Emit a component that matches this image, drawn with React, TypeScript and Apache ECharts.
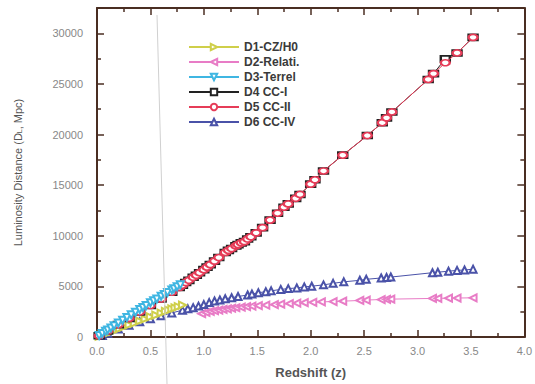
import React, { useEffect, useRef } from "react";
import * as echarts from "echarts";

// D1 - CZ/H0
const zD1 = [0.02, 0.04, 0.06, 0.08, 0.1, 0.12, 0.15, 0.18, 0.21, 0.25, 0.3, 0.35, 0.4, 0.45, 0.5, 0.55, 0.6, 0.64, 0.67, 0.7, 0.73, 0.76, 0.8];
const dD1 = [80, 160, 240, 320, 400, 470, 590, 710, 830, 990, 1190, 1380, 1580, 1780, 1980, 2170, 2370, 2530, 2650, 2770, 2880, 3000, 3160];

// D2 - Relati.
const zD2 = [0.98, 1.02, 1.06, 1.1, 1.14, 1.18, 1.22, 1.26, 1.3, 1.35, 1.4, 1.45, 1.51, 1.58, 1.66, 1.72, 1.8, 1.87, 1.94, 2.02, 2.1, 2.21, 2.3, 2.46, 2.52, 2.66, 2.71, 2.75, 3.14, 3.19, 3.29, 3.37, 3.52];
const dD2 = [2300, 2420, 2520, 2600, 2660, 2720, 2780, 2840, 2890, 2950, 3000, 3050, 3100, 3150, 3200, 3240, 3300, 3350, 3390, 3430, 3470, 3500, 3540, 3610, 3650, 3700, 3720, 3740, 3810, 3820, 3840, 3850, 3870];

// D3 - Terrel
const zD3 = [0.02, 0.05, 0.08, 0.1, 0.13, 0.16, 0.2, 0.24, 0.28, 0.32, 0.36, 0.4, 0.43, 0.46, 0.5, 0.53, 0.56, 0.6, 0.63, 0.66, 0.7, 0.72, 0.75, 0.78];
const dD3 = [140, 350, 560, 695, 900, 1110, 1380, 1650, 1920, 2190, 2450, 2720, 2920, 3110, 3380, 3570, 3760, 4020, 4210, 4400, 4650, 4770, 4970, 5150];

// D4 CC-I and D5 CC-II share redshifts
const zCC = [0.02, 0.1, 0.2, 0.3, 0.4, 0.5, 0.6, 0.7, 0.77, 0.8, 0.83, 0.86, 0.9, 0.93, 0.96, 1.0, 1.03, 1.06, 1.1, 1.14, 1.2, 1.23, 1.26, 1.3, 1.32, 1.35, 1.38, 1.41, 1.44, 1.49, 1.55, 1.62, 1.69, 1.75, 1.79, 1.86, 1.9, 2.0, 2.04, 2.12, 2.3, 2.53, 2.67, 2.71, 2.76, 3.1, 3.15, 3.26, 3.37, 3.52];
const dD4 = [120, 600, 1220, 1840, 2470, 3110, 3760, 4420, 4900, 5120, 5380, 5600, 5900, 6100, 6350, 6650, 6900, 7150, 7500, 7850, 8350, 8560, 8740, 9000, 9130, 9300, 9420, 9680, 9900, 10290, 10800, 11550, 12230, 12820, 13150, 13700, 14080, 15100, 15530, 16400, 17960, 19900, 21170, 21650, 22230, 25440, 26020, 27480, 28060, 29600];
const dD5 = [120, 600, 1220, 1840, 2470, 3110, 3760, 4420, 4900, 5120, 5380, 5600, 5900, 6100, 6350, 6650, 6900, 7150, 7500, 7850, 8350, 8560, 8740, 9000, 9130, 9300, 9420, 9680, 9900, 10290, 10800, 11550, 12230, 12820, 13150, 13700, 14080, 15100, 15530, 16400, 17960, 19900, 21170, 21650, 22230, 25440, 26020, 27090, 28060, 29600];

// D6 CC-IV
const zD6 = [0.05, 0.1, 0.2, 0.3, 0.4, 0.5, 0.6, 0.7, 0.8, 0.85, 0.9, 0.95, 1.0, 1.05, 1.1, 1.15, 1.2, 1.26, 1.32, 1.41, 1.45, 1.51, 1.58, 1.63, 1.72, 1.79, 1.87, 1.94, 2.01, 2.12, 2.21, 2.31, 2.46, 2.52, 2.66, 2.71, 2.75, 3.14, 3.19, 3.29, 3.37, 3.44, 3.52];
const dD6 = [150, 380, 780, 1150, 1500, 1800, 2100, 2380, 2650, 2780, 2900, 3050, 3200, 3400, 3550, 3650, 3780, 3880, 4000, 4150, 4250, 4370, 4480, 4560, 4700, 4780, 4850, 4950, 5020, 5150, 5300, 5450, 5600, 5700, 5830, 5880, 5920, 6350, 6400, 6500, 6580, 6620, 6700];

const legendNames = ["D1-CZ/H0", "D2-Relati.", "D3-Terrel", "D4 CC-I", "D5 CC-II", "D6 CC-IV"];
const xTicks = [0, 0.5, 1, 1.5, 2, 2.5, 3, 3.5, 4];

const pairs = (zs: number[], ds: number[]) => zs.map((z, i) => [z, ds[i]]);

export default function App() {
  const ref = useRef<HTMLDivElement>(null);
  useEffect(() => {
    if (!ref.current) return;
    const chart = echarts.init(ref.current, undefined, { renderer: "svg" });
    const axisColor = "#4a2e22";
    const mkSeries = (name: string, data: number[][], color: string, symbol: string, rotate: number, size: any, z: number) => ({
      name,
      type: "line",
      data,
      symbol,
      symbolRotate: rotate,
      symbolSize: size,
      showAllSymbol: true,
      z,
      lineStyle: { color, width: 1 },
      itemStyle: { color, borderColor: color, borderWidth: 1 },
    });
    const xBase = {
      type: "value",
      min: 0,
      max: 4,
      interval: 0.5,
      axisLine: { show: true, onZero: false, lineStyle: { color: axisColor, width: 2 } },
      axisTick: { show: true, inside: true, length: 7, lineStyle: { color: axisColor, width: 1.5 } },
      minorTick: { show: true, splitNumber: 2, length: 4, lineStyle: { color: axisColor, width: 1.5 } },
      splitLine: { show: false },
    };
    const yBase = {
      type: "value",
      min: 0,
      max: 32500,
      interval: 5000,
      axisLine: { show: true, onZero: false, lineStyle: { color: axisColor, width: 2 } },
      axisTick: { show: true, inside: true, length: 7, lineStyle: { color: axisColor, width: 1.5 } },
      minorTick: { show: true, splitNumber: 2, length: 4, lineStyle: { color: axisColor, width: 1.5 } },
      splitLine: { show: false },
    };
    chart.setOption({
      animation: false,
      backgroundColor: "#ffffff",
      textStyle: { fontFamily: "Liberation Sans, Arial, sans-serif" },
      grid: { left: 97, right: 5, top: 8, bottom: 42 },
      legend: {
        data: legendNames,
        orient: "vertical",
        left: 183,
        top: 36,
        itemWidth: 50,
        itemHeight: 8,
        itemGap: 3,
        textStyle: { color: "#3a3a3a", fontSize: 12, fontWeight: "bold" },
      },
      xAxis: [
        {
          ...xBase,
          position: "bottom",
          name: "Redshift (z)",
          nameLocation: "middle",
          nameGap: 29,
          nameTextStyle: { color: "#555", fontSize: 13, fontWeight: "bold" },
          axisLabel: {
            color: "#888",
            fontSize: 11,
            margin: 8,
            formatter: (v: number) => (xTicks.includes(v) ? v.toFixed(1) : ""),
          },
        },
        { ...xBase, position: "top", axisLabel: { show: false } },
      ],
      yAxis: [
        {
          ...yBase,
          position: "left",
          name: "Luminosity Distance (D{sub|L}, Mpc)",
          nameLocation: "middle",
          nameGap: 74,
          nameTextStyle: {
            color: "#555",
            fontSize: 11,
            rich: { sub: { fontSize: 7, color: "#555", verticalAlign: "bottom" } },
          },
          axisLabel: {
            color: "#888",
            fontSize: 11,
            margin: 14,
            formatter: (v: number) => (v % 5000 === 0 ? String(v) : ""),
          },
        },
        { ...yBase, position: "right", axisLabel: { show: false } },
      ],
      series: [
        mkSeries(legendNames[0], pairs(zD1, dD1), "#cfcf4a", "emptyTriangle", -90, 7, 4),
        mkSeries(legendNames[1], pairs(zD2, dD2), "#e87cc6", "emptyTriangle", 90, 7, 3),
        mkSeries(legendNames[2], pairs(zD3, dD3), "#3fb6e2", "emptyTriangle", 180, 7, 6),
        mkSeries(legendNames[3], pairs(zCC, dD4), "#222222", "emptyRect", 0, [9, 6], 4),
        mkSeries(legendNames[4], pairs(zCC, dD5), "#e63c58", "emptyCircle", 0, [9, 6], 5),
        mkSeries(legendNames[5], pairs(zD6, dD6), "#4a52a8", "emptyTriangle", 0, 7, 3),
      ],
      graphic: [
        {
          type: "line",
          z: 100,
          shape: { x1: 157, y1: 15, x2: 167, y2: 384 },
          style: { stroke: "#d0d0d0", lineWidth: 1 },
          silent: true,
        },
      ],
    });
    return () => chart.dispose();
  }, []);
  return <div ref={ref} style={{ width: 535, height: 384, position: "absolute", left: 0, top: 0 }} />;
}
